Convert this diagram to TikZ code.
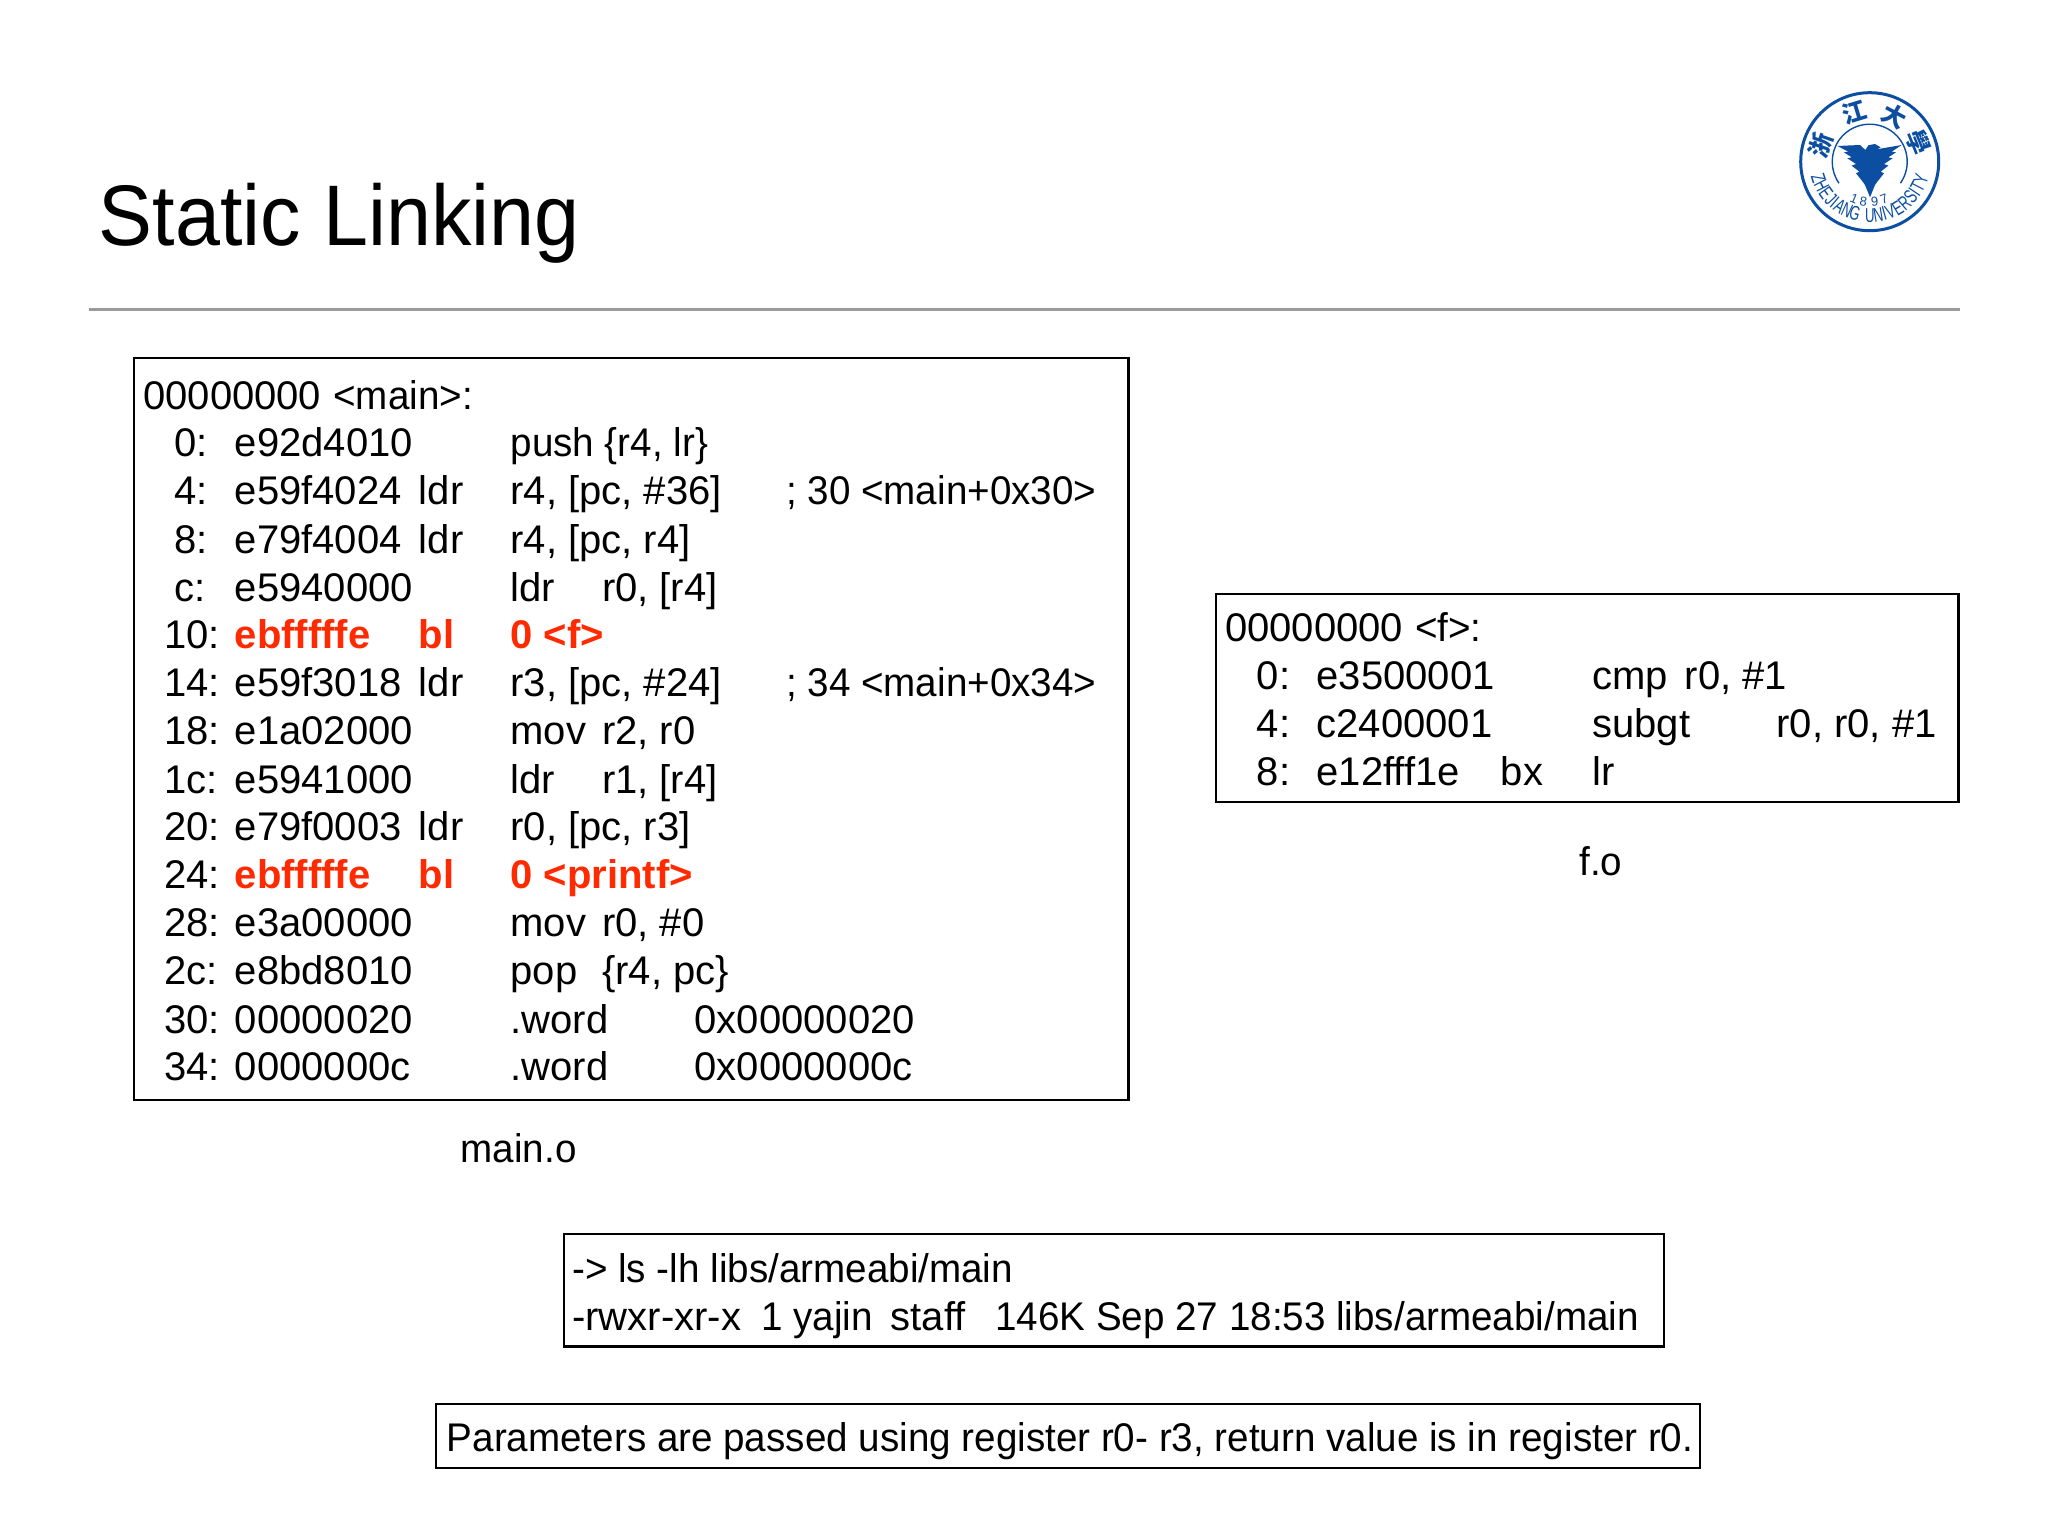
\documentclass[tikz,border=0pt]{standalone}
\usepackage{fontspec}
\setmainfont{Liberation Sans}
\newfontfamily\prosefont[FakeStretch=0.965]{Liberation Sans}
\newfontfamily\titlefont[FakeStretch=0.94]{Liberation Sans}
\newfontfamily\condfont[FakeStretch=0.66]{Liberation Sans}
\newfontfamily\cjkfont{Noto Sans CJK TC}
\definecolor{zjublue}{HTML}{0B4EA2}
\definecolor{hotred}{HTML}{FF2A00}
\definecolor{rulegray}{HTML}{9A9A9A}
\newcounter{tn}
\tikzset{
  x=1pt,y=-1pt,
  codetext/.style={anchor=base west,inner sep=0pt,outer sep=0pt,font=\fontsize{40}{48}\selectfont,text=black},
  prose/.style={codetext,font=\prosefont\fontsize{40}{48}\selectfont},
  hot/.style={codetext,font=\fontsize{40}{48}\selectfont\bfseries,text=hotred},
  framebox/.style={draw=black,line width=2.2pt},
  logochar/.style={inner sep=0pt,text=zjublue}
}
\newcommand{\T}[4][codetext]{\stepcounter{tn}\node[#1] (t\arabic{tn}) at (#2,#3) {#4};}
\newcommand{\R}[1]{\the\numexpr 411+(#1)*482/10\relax}
\begin{document}
\begin{tikzpicture}
\useasboundingbox (0,0) rectangle (2048,1536);
\fill[white] (0,0) rectangle (2048,1536);
\begin{scope}[scale=0.9952]
% title and rule
\node[anchor=base west,inner sep=0pt,font=\titlefont\fontsize{86}{90}\selectfont] (title) at (99,247) {Static Linking};
\draw[rulegray,line width=2.4pt] (89,311) -- (1969,311);
% boxes
\draw[framebox] (135,360) rectangle (1134,1105);
\draw[framebox] (1222,597) rectangle (1968,806);
\draw[framebox] (567,1240) rectangle (1672,1353);
\draw[framebox] (438,1411) rectangle (1708,1475);
% main.o
\T{144}{\R{0}}{00000000} \T[prose]{335}{\R{0}}{<main>:}
\T{175}{\R{1}}{0:} \T{236}{\R{1}}{e92d4010} \T[prose]{513}{\R{1}}{push \{r4, lr\}}
\T{175}{\R{2}}{4:} \T{236}{\R{2}}{e59f4024} \T{421}{\R{2}}{ldr} \T{513}{\R{2}}{r4, [pc, \#36]} \T[prose]{790}{\R{2}}{; 30 <main+0x30>}
\T{175}{\R{3}}{8:} \T{236}{\R{3}}{e79f4004} \T{421}{\R{3}}{ldr} \T{513}{\R{3}}{r4, [pc, r4]}
\T{175}{\R{4}}{c:} \T{236}{\R{4}}{e5940000} \T{513}{\R{4}}{ldr} \T{605}{\R{4}}{r0, [r4]}
\T{165}{\R{5}}{10:} \T[hot]{236}{\R{5}}{ebfffffe} \T[hot]{421}{\R{5}}{bl} \T[hot]{513}{\R{5}}{0 <f>}
\T{165}{\R{6}}{14:} \T{236}{\R{6}}{e59f3018} \T{421}{\R{6}}{ldr} \T{513}{\R{6}}{r3, [pc, \#24]} \T[prose]{790}{\R{6}}{; 34 <main+0x34>}
\T{165}{\R{7}}{18:} \T{236}{\R{7}}{e1a02000} \T{513}{\R{7}}{mov} \T{605}{\R{7}}{r2, r0}
\T{165}{\R{8}}{1c:} \T{236}{\R{8}}{e5941000} \T{513}{\R{8}}{ldr} \T{605}{\R{8}}{r1, [r4]}
\T{165}{\R{9}}{20:} \T{236}{\R{9}}{e79f0003} \T{421}{\R{9}}{ldr} \T{513}{\R{9}}{r0, [pc, r3]}
\T{165}{\R{10}}{24:} \T[hot]{236}{\R{10}}{ebfffffe} \T[hot]{421}{\R{10}}{bl} \T[hot]{513}{\R{10}}{0 <printf>}
\T{165}{\R{11}}{28:} \T{236}{\R{11}}{e3a00000} \T{513}{\R{11}}{mov} \T{605}{\R{11}}{r0, \#0}
\T{165}{\R{12}}{2c:} \T{236}{\R{12}}{e8bd8010} \T{513}{\R{12}}{pop} \T{605}{\R{12}}{\{r4, pc\}}
\T{165}{\R{13}}{30:} \T{236}{\R{13}}{00000020} \T{513}{\R{13}}{.word} \T{698}{\R{13}}{0x00000020}
\T{165}{\R{14}}{34:} \T{236}{\R{14}}{0000000c} \T{513}{\R{14}}{.word} \T{698}{\R{14}}{0x0000000c}
\T[prose]{463}{1168}{main.o}
% f.o
\T{1231}{645}{00000000} \T[prose]{1422}{645}{<f>:}
\T{1263}{693}{0:} \T{1323}{693}{e3500001} \T{1600}{693}{cmp} \T{1693}{693}{r0, \#1}
\T{1263}{741}{4:} \T{1323}{741}{c2400001} \T{1600}{741}{subgt} \T{1785}{741}{r0, r0, \#1}
\T{1263}{789}{8:} \T{1323}{789}{e12fff1e} \T{1508}{789}{bx} \T{1600}{789}{lr}
\T[prose]{1587}{880}{f.o}
% ls
\T[prose]{575}{1289}{-> ls -lh libs/armeabi/main}
\T{575}{1337}{-rwxr-xr-x} \T[prose]{765}{1337}{1 yajin} \T{895}{1337}{staff} \T[prose]{1000}{1337}{146K Sep 27 18:53 libs/armeabi/main}
% note
\T[prose]{449}{1458}{Parameters are passed using register r0- r3, return value is in register r0.}
\end{scope}
% logo
\draw[zjublue,line width=3pt] (1869.7,161.7) circle[radius=69];
\draw[zjublue,line width=1.4pt] ({1869.7+37.5*cos(-35)},{161.7-37.5*sin(-35)}) arc[start angle=35,end angle=-215,radius=37.5];
\begin{scope}[shift={(1760,70)},x=0.3333pt,y=-0.3333pt]
\fill[zjublue] (232,228) -- (300,225) -- (316,240) -- (325,226) -- (345,222) -- (362,232) -- (350,238)
  -- (425,225) -- (395,245) -- (408,247) -- (385,262) -- (398,265) -- (372,282) -- (385,287)
  -- (362,305) -- (372,310) -- (352,335) -- (345,345) -- (330,382) -- (315,345) -- (308,335)
  -- (288,310) -- (298,305) -- (275,287) -- (288,282) -- (262,265) -- (275,262) -- (252,247)
  -- (265,245) -- cycle;
\end{scope}
\foreach \ch/\a in {浙/161,江/107,大/62,學/22}{
  \node[logochar,font=\cjkfont\bfseries\fontsize{24}{24}\selectfont,rotate=\a-90] (cn\a) at ({1869.7+52*cos(\a)},{161.7-52*sin(\a)}) {\ch};
}
\foreach \ch/\a [count=\i] in {Z/198,H/206.9,E/215.8,J/223.8,I/229.6,A/236.3,N/245.2,G/254.1,U/270.1,N/279,I/285.7,V/292.4,E/301.3,R/310.2,S/319.1,I/325.8,T/332.5,Y/341.4}{
  \node[logochar,font=\condfont\fontsize{20}{20}\selectfont,rotate=\a+90] (en\i) at ({1869.7+54*cos(\a)},{161.7-54*sin(\a)}) {\ch};
}
\foreach \ch/\a in {1/247,8/261,9/277,7/291}{
  \node[logochar,font=\fontsize{13}{13}\selectfont,rotate=\a+90] (yr\a) at ({1869.7+40*cos(\a)},{161.7-40*sin(\a)}) {\ch};
}
\end{tikzpicture}
\end{document}
